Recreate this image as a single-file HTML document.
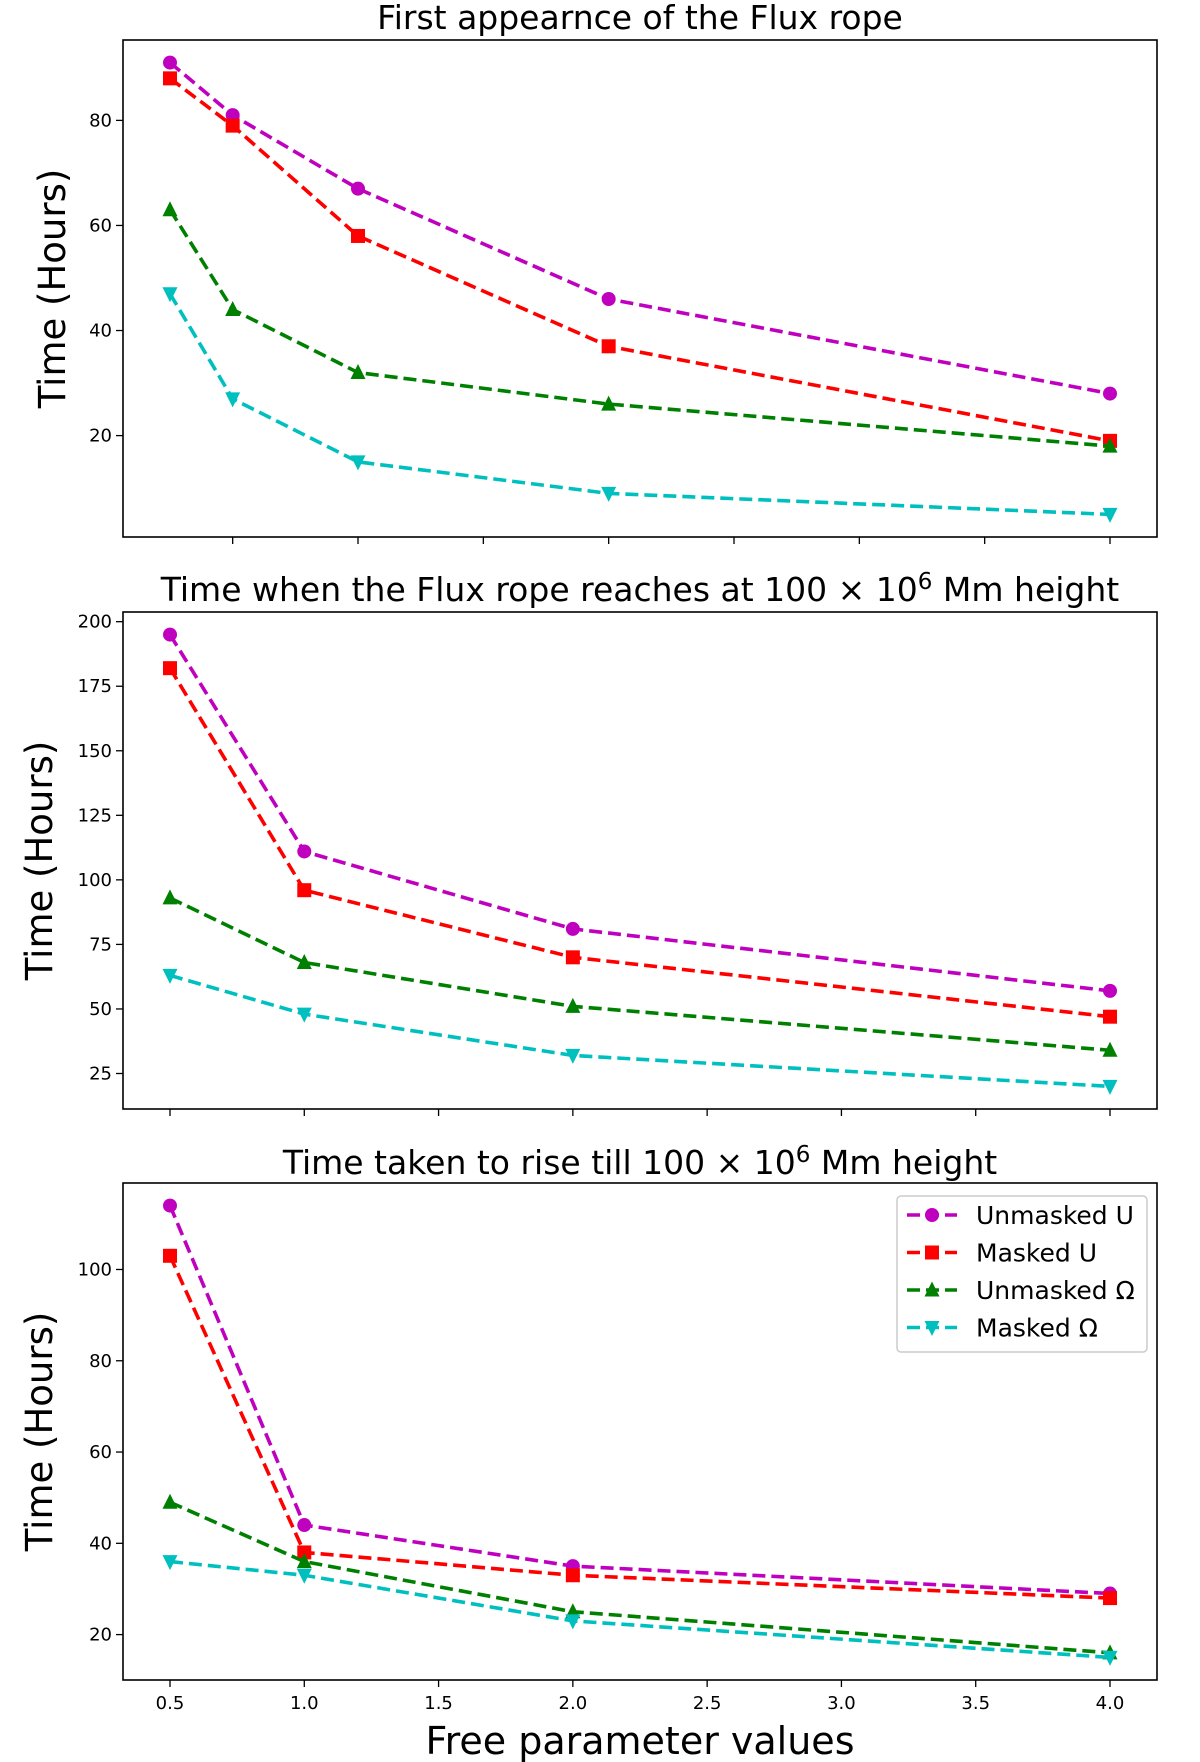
<!DOCTYPE html>
<html><head><meta charset="utf-8"><style>
html,body{margin:0;padding:0;background:#fff}
svg{display:block}
text{font-family:"DejaVu Sans","Liberation Sans",sans-serif;fill:#000}
</style></head><body>
<svg id="fig" width="1200" height="1762" viewBox="0 0 1200 1762" xmlns="http://www.w3.org/2000/svg"></svg>
<script>
// Panel 1 (x positions index-like)
const p1X = [0, 1, 3, 7, 15];
const p1Ticks = [1, 3, 5, 7, 9, 11, 13, 15];
const p1YTicks = [20, 40, 60, 80];
const p1U = [91, 81, 67, 46, 28];
const p1M = [88, 79, 58, 37, 19];
const p1UO = [63, 44, 32, 26, 18];
const p1MO = [47, 27, 15, 9, 5];
// Panel 2
const p2X = [0.5, 1.0, 2.0, 4.0];
const p2Ticks = [0.5, 1.0, 1.5, 2.0, 2.5, 3.0, 3.5, 4.0];
const p2YTicks = [25, 50, 75, 100, 125, 150, 175, 200];
const p2U = [195, 111, 81, 57];
const p2M = [182, 96, 70, 47];
const p2UO = [93, 68, 51, 34];
const p2MO = [63, 48, 32, 20];
// Panel 3
const p3X = [0.5, 1.0, 2.0, 4.0];
const p3Ticks = [0.5, 1.0, 1.5, 2.0, 2.5, 3.0, 3.5, 4.0];
const p3TickLabels = ["0.5", "1.0", "1.5", "2.0", "2.5", "3.0", "3.5", "4.0"];
const p3YTicks = [20, 40, 60, 80, 100];
const p3U = [114, 44, 35, 29];
const p3M = [103, 38, 33, 28];
const p3UO = [49, 36, 25, 16];
const p3MO = [36, 33, 23, 15];
const seriesNames = ["Unmasked U", "Masked U", "Unmasked \u03A9", "Masked \u03A9"];

const NS = "http://www.w3.org/2000/svg";
const fig = document.getElementById("fig");
function mk(tag, attrs, parent) {
  const e = document.createElementNS(NS, tag);
  for (const k in attrs) e.setAttribute(k, attrs[k]);
  (parent || fig).appendChild(e);
  return e;
}
const colors = ["#bf00bf", "#ff0000", "#008000", "#00bfbf"];
const markers = ["circle", "square", "tri", "tridown"];
const L = 123, R = 1157;

function marker(g, type, x, y, c) {
  let m;
  if (type === "circle") m = mk("circle", {cx: x, cy: y, r: 7, fill: c}, g);
  else if (type === "square") m = mk("rect", {x: x - 7, y: y - 7, width: 14, height: 14, fill: c}, g);
  else if (type === "tri") m = mk("polygon", {points: `${x},${y-8.5} ${x-7.5},${y+6.5} ${x+7.5},${y+6.5}`, fill: c}, g);
  else m = mk("polygon", {points: `${x},${y+8.5} ${x-7.5},${y-6.5} ${x+7.5},${y-6.5}`, fill: c}, g);
  return m;
}

function panel(opts) {
  const {name, top, bot, xs, series, xticks, xlabels, yticks, title, titleY, ylabelX} = opts;
  const g = mk("g", {});
  
  
  const xmin = Math.min(...xs), xmax = Math.max(...xs), xr = xmax - xmin;
  const x0 = xmin - 0.05 * xr, x1 = xmax + 0.05 * xr;
  const all = series.flat();
  const ymin = Math.min(...all), ymax = Math.max(...all), yr = ymax - ymin;
  const y0 = ymin - 0.05 * yr, y1 = ymax + 0.05 * yr;
  const sx = v => L + (v - x0) / (x1 - x0) * (R - L);
  const sy = v => bot - (v - y0) / (y1 - y0) * (bot - top);
  xticks.forEach((t, i) => {
    const tk = mk("line", {x1: sx(t), x2: sx(t), y1: bot, y2: bot + 7, stroke: "#000", "stroke-width": 1.3}, g);
    
    
    if (xlabels) {
      const tl = mk("text", {x: sx(t), y: bot + 29, "text-anchor": "middle", "font-size": 18}, g);
      tl.textContent = xlabels[i];
      
      
    }
  });
  yticks.forEach(t => {
    const tk = mk("line", {x1: L - 7, x2: L, y1: sy(t), y2: sy(t), stroke: "#000", "stroke-width": 1.3}, g);
    
    
    const tl = mk("text", {x: L - 11, y: sy(t) + 6, "text-anchor": "end", "font-size": 18}, g);
    tl.textContent = String(t);
    
    
  });
  series.forEach((s, si) => {
    const pts = s.map((v, i) => sx(xs[i]) + "," + sy(v)).join(" ");
    const pl = mk("polyline", {points: pts, fill: "none", stroke: colors[si], "stroke-width": 3.6, "stroke-dasharray": "13,6"}, g);
    
    
    s.forEach((v, i) => {
      const m = marker(g, markers[si], sx(xs[i]), sy(v), colors[si]);
      
      
    });
  });
  const fr = mk("rect", {x: L, y: top, width: R - L, height: bot - top, fill: "none", stroke: "#000", "stroke-width": 1.6}, g);
  
  
  const tt = mk("text", {x: (L + R) / 2, y: titleY, "text-anchor": "middle", "font-size": 33}, g);
  tt.innerHTML = title;
  
  
  const cy = (top + bot) / 2;
  const yl = mk("text", {x: ylabelX, y: cy, "text-anchor": "middle", "font-size": 37, transform: `rotate(-90 ${ylabelX} ${cy})`}, g);
  yl.textContent = "Time (Hours)";
  
  
  return g;
}

panel({name: "panel-first-appearance", top: 40, bot: 537, xs: p1X, series: [p1U, p1M, p1UO, p1MO],
  xticks: p1Ticks, xlabels: null, yticks: p1YTicks, title: "First appearnce of the Flux rope", titleY: 29, ylabelX: 65});
panel({name: "panel-reach-height", top: 612, bot: 1109, xs: p2X, series: [p2U, p2M, p2UO, p2MO],
  xticks: p2Ticks, xlabels: null, yticks: p2YTicks,
  title: 'Time when the Flux rope reaches at 100 \u00D7 10<tspan dy="-12" font-size="23">6</tspan><tspan dy="12"> Mm height</tspan>', titleY: 601, ylabelX: 52});
panel({name: "panel-rise-time", top: 1183, bot: 1680, xs: p3X, series: [p3U, p3M, p3UO, p3MO],
  xticks: p3Ticks, xlabels: p3TickLabels, yticks: p3YTicks,
  title: 'Time taken to rise till 100 \u00D7 10<tspan dy="-12" font-size="23">6</tspan><tspan dy="12"> Mm height</tspan>', titleY: 1174, ylabelX: 52});

const xl = mk("text", {x: (L + R) / 2, y: 1754, "text-anchor": "middle", "font-size": 38});
xl.textContent = "Free parameter values";



// legend
const lg = mk("g", {});


mk("rect", {x: 897, y: 1196, width: 250, height: 156, rx: 4, fill: "#fff", stroke: "#ccc", "stroke-width": 1.5}, lg);
seriesNames.forEach((n, i) => {
  const y = 1215 + i * 37.5;
  const e = mk("g", {}, lg);
  
  
  mk("line", {x1: 907, x2: 957, y1: y, y2: y, stroke: colors[i], "stroke-width": 3.6, "stroke-dasharray": "13,6"}, e);
  marker(e, markers[i], 932, y, colors[i]);
  const t = mk("text", {x: 976, y: y + 9, "font-size": 25}, e);
  t.textContent = n;
});
</script>
</body></html>
